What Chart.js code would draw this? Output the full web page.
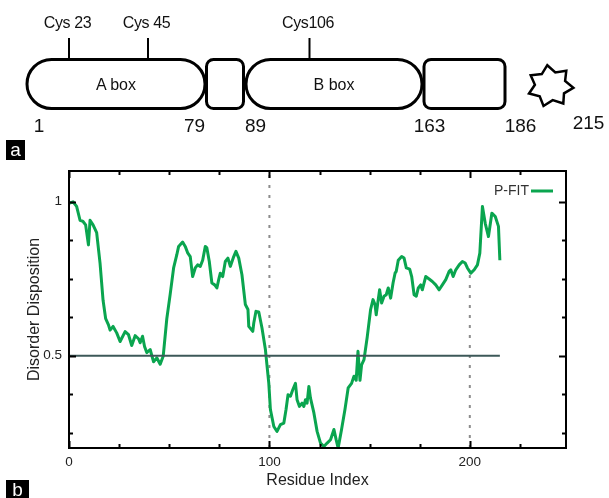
<!DOCTYPE html>
<html>
<head>
<meta charset="utf-8">
<script src="https://cdn.jsdelivr.net/npm/chart.js@4.4.1/dist/chart.umd.min.js"></script>
<style>
  html, body { margin: 0; padding: 0; background: #fff; }
  #wrap { position: relative; width: 609px; height: 498px; overflow: hidden; font-family: "Liberation Sans", Arial, sans-serif; }
  #plot { position: absolute; left: 0; top: 0; }
  #domains { position: absolute; left: 0; top: 0; }
  .panel { position: absolute; background: #000; color: #fff; font-size: 19px; line-height: 1; text-align: center; }
</style>
</head>
<body>
<div id="wrap">
  <canvas id="plot" width="609" height="498"></canvas>
  <svg id="domains" width="609" height="170" xmlns="http://www.w3.org/2000/svg"></svg>
  <div class="panel" style="left:6px;top:140px;width:19px;height:20px;line-height:19px;">a</div>
  <div class="panel" style="left:6px;top:480px;width:23px;height:18px;line-height:20px;">b</div>
</div>
<script>
// ---- protein domain map ----
const domainNames = ['A box', '', 'B box', ''];
const domainBounds = [1, 79, 89, 163, 186, 215];
const cysteineSites = [23, 45, 106];

// ---- disorder profile (P-FIT) ----
const residues = [
  0, 2, 3.8, 5.5, 7, 8.3, 9.7, 10.5, 12, 13.8, 15.5, 17, 18.3, 19.7, 20.5, 22, 23.8, 25.5, 28, 29.7,
  31.3, 33, 34.7, 35.5, 36.7, 37.7, 38.8, 40.5, 42.2, 43.8, 45.5, 47, 48.8, 50.5, 52.2, 53.8, 54.7, 56.7, 58, 59.3,
  60.5, 61.7, 63, 64.2, 65.5, 66.7, 68, 68.8, 70, 71.3, 72.7, 73.8, 74.7, 75.5, 76.7, 78, 79.3, 80.5, 82.2, 83.3,
  84.7, 86.3, 88, 89.3, 89.7, 91.7, 92.2, 93.3, 94.7, 96.3, 98, 99.7, 100.5, 102.2, 103.8, 105.5, 107.2, 108.3, 109.3, 110.5,
  111.7, 113, 113.8, 115, 116.3, 117.2, 118, 118.8, 119.7, 120.5, 122.2, 123.8, 125.5, 127.2, 128.8, 130.5, 132.2, 133.3, 134.3, 136,
  137.7, 139.3, 141, 142.2, 143.3, 144.2, 145.2, 146, 147.2, 148.8, 150.5, 151.7, 152.7, 153.3, 154.3, 155, 156, 157.2, 158.3, 159.3,
  160.5, 161.7, 162.7, 163.3, 164.3, 166, 167.2, 168.3, 170, 171, 172.2, 173.3, 174.3, 175.5, 176.3, 178, 179.7, 181.3, 183, 184.7,
  186.3, 188, 189.7, 190.5, 191.7, 193, 194.7, 196.3, 197.7, 198.8, 200.5, 202.2, 203.8, 205, 206.3, 207.7, 209.3, 211, 212.7, 214.3,
  215
];
const disorder = [
  0.995, 1.0, 0.985, 0.94, 0.936, 0.925, 0.86, 0.94, 0.925, 0.90, 0.80, 0.68, 0.62, 0.60, 0.583, 0.595, 0.574, 0.546, 0.578, 0.568,
  0.533, 0.565, 0.555, 0.542, 0.563, 0.53, 0.51, 0.52, 0.48, 0.493, 0.472, 0.498, 0.62, 0.70, 0.785, 0.828, 0.855, 0.869, 0.855, 0.833,
  0.822, 0.757, 0.785, 0.795, 0.79, 0.81, 0.855, 0.85, 0.806, 0.736, 0.73, 0.72, 0.747, 0.768, 0.757, 0.806, 0.817, 0.79, 0.822, 0.839,
  0.817, 0.763, 0.666, 0.65, 0.595, 0.579, 0.606, 0.644, 0.642, 0.59, 0.52, 0.41, 0.325, 0.27, 0.254, 0.276, 0.281, 0.325, 0.373, 0.368,
  0.39, 0.41, 0.357, 0.335, 0.346, 0.335, 0.357, 0.346, 0.40, 0.362, 0.314, 0.254, 0.216, 0.205, 0.216, 0.227, 0.26, 0.227, 0.2, 0.26,
  0.325, 0.395, 0.41, 0.433, 0.42, 0.514, 0.42, 0.47, 0.487, 0.56, 0.65, 0.682, 0.666, 0.633, 0.682, 0.714, 0.671, 0.693, 0.698, 0.72,
  0.687, 0.736, 0.768, 0.774, 0.81, 0.822, 0.817, 0.785, 0.781, 0.757, 0.698, 0.693, 0.72, 0.73, 0.714, 0.757, 0.749, 0.741, 0.73, 0.714,
  0.73, 0.747, 0.774, 0.779, 0.757, 0.779, 0.795, 0.806, 0.801, 0.785, 0.768, 0.779, 0.795, 0.833, 0.985, 0.93, 0.887, 0.963, 0.952, 0.92,
  0.81
];
const seriesName = 'P-FIT';

// threshold and marker lines (data units)
const thresholdLevel = 0.5;
const thresholdSpan = [0, 215];
const markerResidues = [100, 200];
const markerTops = [1.1, 0.768];

// axes
const xRange = [0, 248];
const yRange = [0.2, 1.1];
const xLabelTicks = [0, 100, 200];
const yLabelTicks = [0.5, 1];
const xMinorTicks = [0, 25, 50, 75, 100, 125, 150, 175, 200, 225];
const yMinorTicks = [0.25, 0.375, 0.5, 0.625, 0.75, 0.875, 1];

const GREEN = '#0aa54f';

// ---------- domain map drawing ----------
(function drawDomains() {
  const svg = document.getElementById('domains');
  const NS = 'http://www.w3.org/2000/svg';
  const add = (tag, attrs, text) => {
    const el = document.createElementNS(NS, tag);
    for (const k in attrs) el.setAttribute(k, attrs[k]);
    if (text !== undefined) el.textContent = text;
    svg.appendChild(el);
    return el;
  };
  // schematic layout (not to scale)
  const boxTop = 59.5, boxH = 49;
  const boxes = [
    { x0: 27, x1: 205, r: 24.5 },
    { x0: 206.5, x1: 243.5, r: 7 },
    { x0: 246, x1: 422, r: 24.5 },
    { x0: 424, x1: 505, r: 7 }
  ];
  boxes.forEach((b, i) => {
    add('rect', { x: b.x0, y: boxTop, width: b.x1 - b.x0, height: boxH, rx: b.r, ry: b.r,
      fill: '#fff', stroke: '#000', 'stroke-width': 3 });
    if (domainNames[i]) {
      add('text', { x: (b.x0 + b.x1) / 2, y: boxTop + boxH / 2 + 5.5, 'text-anchor': 'middle',
        'font-family': 'Liberation Sans, Arial, sans-serif', 'font-size': 16, fill: '#111' }, domainNames[i]);
    }
  });
  // cysteine markers
  const cysX = [69, 148, 309.5];
  const cysLabel = ['Cys ' + cysteineSites[0], 'Cys ' + cysteineSites[1], 'Cys' + cysteineSites[2]];
  cysteineSites.forEach((c, i) => {
    add('line', { x1: cysX[i], y1: 38, x2: cysX[i], y2: boxTop, stroke: '#000', 'stroke-width': 2 });
    add('text', { x: cysX[i] - 1.5, y: 28, 'text-anchor': 'middle',
      'font-family': 'Liberation Sans, Arial, sans-serif', 'font-size': 16, 'letter-spacing': '-0.4', fill: '#111' }, cysLabel[i]);
  });
  // boundary numbers
  const numX = [39, 194.5, 255.5, 429.5, 520.5, 588.5];
  const numY = [132, 132, 132, 132, 132, 129];
  domainBounds.forEach((n, i) => {
    add('text', { x: numX[i], y: numY[i], 'text-anchor': 'middle',
      'font-family': 'Liberation Sans, Arial, sans-serif', 'font-size': 19, fill: '#111' }, String(n));
  });
  // seven-pointed star at the C-terminus
  const cx = 550.5, cy = 86, rx = 23, ry = 21, inner = 0.68, rot = -8 * Math.PI / 180;
  const pts = [];
  for (let k = 0; k < 14; k++) {
    const a = -Math.PI / 2 + rot + k * Math.PI / 7;
    const f = k % 2 === 0 ? 1 : inner;
    pts.push((cx + rx * f * Math.cos(a)).toFixed(1) + ',' + (cy + ry * f * Math.sin(a)).toFixed(1));
  }
  add('polygon', { points: pts.join(' '), fill: '#fff', stroke: '#000', 'stroke-width': 2.5, 'stroke-linejoin': 'miter' });
})();

// ---------- disorder plot ----------
const framePlugin = {
  id: 'frame',
  afterDraw(chart) {
    const { ctx, chartArea: a, scales } = chart;
    const xs = scales.x, ys = scales.y;
    ctx.save();
    ctx.strokeStyle = '#000';
    ctx.lineWidth = 2;
    ctx.strokeRect(a.left, a.top, a.right - a.left, a.bottom - a.top);
    ctx.beginPath();
    xMinorTicks.forEach(v => {
      const px = Math.round(xs.getPixelForValue(v)) + 0.5;
      const len = xLabelTicks.includes(v) ? 7 : 4;
      ctx.moveTo(px, a.bottom); ctx.lineTo(px, a.bottom - len);
      ctx.moveTo(px, a.top); ctx.lineTo(px, a.top + len);
    });
    yMinorTicks.forEach(v => {
      const py = Math.round(ys.getPixelForValue(v)) + 0.5;
      const len = yLabelTicks.includes(v) ? 7 : 4;
      ctx.moveTo(a.left, py); ctx.lineTo(a.left + len, py);
      ctx.moveTo(a.right, py); ctx.lineTo(a.right - len, py);
    });
    ctx.stroke();
    // legend entry
    const ly = a.top + 20, lx1 = a.right - 13, lx0 = lx1 - 22;
    ctx.font = '14px "Liberation Sans", Arial, sans-serif';
    ctx.fillStyle = '#333';
    ctx.textAlign = 'right';
    ctx.textBaseline = 'middle';
    ctx.fillText(seriesName, lx0 - 2, ly);
    ctx.strokeStyle = GREEN;
    ctx.lineWidth = 3;
    ctx.beginPath(); ctx.moveTo(lx0, ly); ctx.lineTo(lx1, ly); ctx.stroke();
    ctx.restore();
  }
};

const markerSets = markerResidues.map((r, i) => ({
  label: 'marker' + r,
  data: [{ x: r, y: yRange[0] }, { x: r, y: markerTops[i] }],
  borderColor: '#8c8c8c',
  borderWidth: 2,
  borderDash: [3, 7],
  pointRadius: 0,
  order: 3
}));

new Chart(document.getElementById('plot'), {
  type: 'line',
  data: {
    datasets: [
      {
        label: 'threshold',
        data: thresholdSpan.map(x => ({ x, y: thresholdLevel })),
        borderColor: '#3c5858',
        borderWidth: 2,
        pointRadius: 0,
        order: 1
      },
      {
        label: seriesName,
        data: residues.map((x, i) => ({ x, y: disorder[i] })),
        borderColor: GREEN,
        borderWidth: 3,
        pointRadius: 0,
        tension: 0,
        borderJoinStyle: 'round',
        order: 2
      },
      ...markerSets
    ]
  },
  options: {
    responsive: false,
    animation: false,
    events: [],
    layout: { padding: { left: 0, top: 171, right: 43, bottom: 0 } },
    plugins: { legend: { display: false }, tooltip: { enabled: false } },
    scales: {
      x: {
        type: 'linear',
        min: xRange[0],
        max: xRange[1],
        afterFit(s) { s.height = 50; },
        afterBuildTicks(s) { s.ticks = xLabelTicks.map(v => ({ value: v })); },
        grid: { display: false, drawTicks: false },
        border: { display: false },
        ticks: {
          padding: 6,
          maxRotation: 0,
          autoSkip: false,
          color: '#222',
          font: { family: '"Liberation Sans", Arial, sans-serif', size: 13.5 },
          callback: v => String(v)
        },
        title: {
          display: true,
          text: 'Residue Index',
          color: '#222',
          font: { family: '"Liberation Sans", Arial, sans-serif', size: 16 },
          padding: { top: 0, bottom: 8 }
        }
      },
      y: {
        type: 'linear',
        min: yRange[0],
        max: yRange[1],
        afterFit(s) { s.width = 69; },
        afterBuildTicks(s) { s.ticks = yLabelTicks.map(v => ({ value: v })); },
        grid: { display: false, drawTicks: false },
        border: { display: false },
        ticks: {
          padding: 7,
          autoSkip: false,
          color: '#222',
          font: { family: '"Liberation Sans", Arial, sans-serif', size: 13.5 },
          callback: v => String(v)
        },
        title: {
          display: true,
          text: 'Disorder Disposition',
          color: '#222',
          font: { family: '"Liberation Sans", Arial, sans-serif', size: 16 },
          padding: { top: 25, bottom: 0 }
        }
      }
    }
  },
  plugins: [framePlugin]
});
</script>
</body>
</html>
